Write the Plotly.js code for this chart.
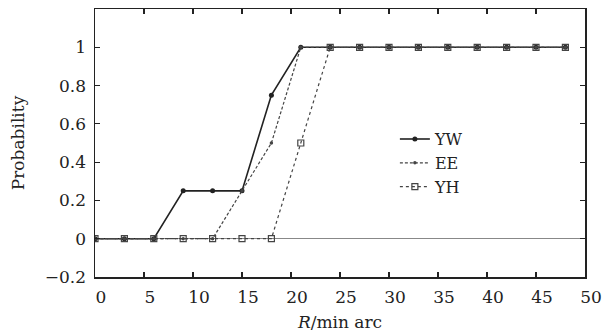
<!DOCTYPE html>
<html>
<head>
<meta charset="utf-8">
<script src="https://cdn.plot.ly/plotly-3.0.1.min.js"></script>
<style>html,body{margin:0;padding:0;background:#fff;}#chart{width:603px;height:332px;}</style>
</head>
<body>
<div id="chart"></div>
<script>
// R / min arc
const rValues = [0, 3, 6, 9, 12, 15, 18, 21, 24, 27, 30, 33, 36, 39, 42, 45, 48];
const yw = [0, 0, 0, 0.25, 0.25, 0.25, 0.75, 1, 1, 1, 1, 1, 1, 1, 1, 1, 1];
const ee = [0, 0, 0, 0, 0, 0.25, 0.5, 1, 1, 1, 1, 1, 1, 1, 1, 1, 1];
const yh = [0, 0, 0, 0, 0, 0, 0, 0.5, 1, 1, 1, 1, 1, 1, 1, 1, 1];
const seriesNames = ['YW', 'EE', 'YH'];
const xTickVals = [0, 5, 10, 15, 20, 25, 30, 35, 40, 45, 50];
const yTickVals = [-0.2, 0, 0.2, 0.4, 0.6, 0.8, 1];
const yTickText = ['\u22120.2', '0', '0.2', '0.4', '0.6', '0.8', '1'];

const ink = '#222';
const font = 'DejaVu Serif, Liberation Serif, serif';

const traces = [
  {x: rValues, y: yw, name: seriesNames[0], mode: 'lines+markers',
   line: {color: ink, width: 1.6, dash: 'solid'},
   marker: {symbol: 'circle', size: 5, color: ink}},
  {x: rValues, y: ee, name: seriesNames[1], mode: 'lines+markers',
   line: {color: '#444', width: 1.2, dash: '3px,2px'},
   marker: {symbol: 'circle', size: 3.5, color: '#444'}},
  {x: rValues, y: yh, name: seriesNames[2], mode: 'lines+markers',
   line: {color: '#444', width: 1.2, dash: 'dot'},
   marker: {symbol: 'square-open', size: 6, color: '#444', line: {width: 1.2, color: '#444'}}}
];

const layout = {
  width: 603, height: 332,
  margin: {l: 95, r: 18, t: 9, b: 55},
  paper_bgcolor: '#fff', plot_bgcolor: '#fff',
  font: {family: font, size: 17, color: ink},
  showlegend: true,
  legend: {x: 0.612, y: 0.578, xanchor: 'left', yanchor: 'top',
           bgcolor: 'rgba(0,0,0,0)', borderwidth: 0,
           font: {family: font, size: 16, color: ink}, tracegroupgap: 0},
  xaxis: {
    range: [0, 50], tickvals: xTickVals, ticktext: xTickVals.map(String),
    ticks: 'inside', ticklen: 5, tickwidth: 1.2, tickcolor: ink,
    showline: true, linecolor: ink, linewidth: 1.5, mirror: 'ticks',
    showgrid: false, zeroline: false, ticklabelshift: 6, ticklabelstandoff: 4,
    tickfont: {family: font, size: 17, color: ink},
    title: {text: '<i>R</i>/min arc', font: {family: font, size: 17, color: ink}, standoff: 10}
  },
  yaxis: {
    range: [-0.2, 1.2], tickvals: yTickVals, ticktext: yTickText,
    ticks: 'inside', ticklen: 5, tickwidth: 1.2, tickcolor: ink,
    showline: true, linecolor: ink, linewidth: 1.5, mirror: 'ticks',
    showgrid: false, zeroline: true, zerolinecolor: '#888', zerolinewidth: 1,
    ticklabelstandoff: 4,
    tickfont: {family: font, size: 17, color: ink},
    title: {text: 'Probability', font: {family: font, size: 17, color: ink}, standoff: 16}
  }
};

Plotly.newPlot('chart', traces, layout, {displayModeBar: false, staticPlot: true});
</script>
</body>
</html>
